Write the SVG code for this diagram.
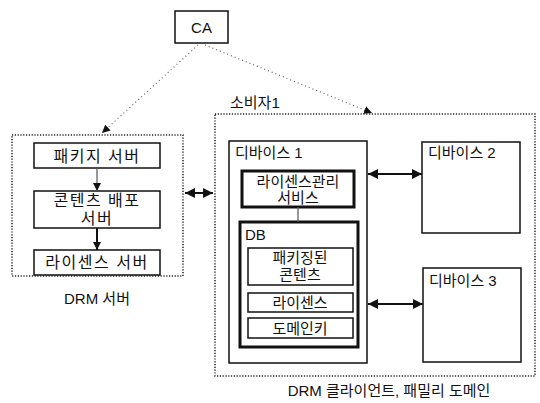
<svg xmlns="http://www.w3.org/2000/svg" width="540" height="403" viewBox="0 0 540 403">
  <style>
    text { font-family: "Liberation Sans", "Noto Sans CJK KR", sans-serif; font-size: 15px; fill: #111; }
    .mid { text-anchor: middle; }
    .wide { font-size: 16px; letter-spacing: 1.5px; }
    .box { fill: #fff; stroke: #111; stroke-width: 1.5; }
    .thick { fill: #fff; stroke: #111; stroke-width: 3; }
    .group { fill: none; stroke: #222; stroke-width: 1.5; stroke-dasharray: 1.2 1.6; }
    .dotline { fill: none; stroke: #666; stroke-width: 1.2; stroke-dasharray: 1 3; }
    .link { fill: none; stroke: #111; stroke-width: 2; }
    .thin { fill: none; stroke: #555; stroke-width: 1.2; }
  </style>
  <defs>
    <marker id="head" viewBox="0 0 10 10" refX="10" refY="5" markerWidth="8" markerHeight="8" markerUnits="userSpaceOnUse" orient="auto-start-reverse">
      <path d="M0,0 L10,5 L0,10 z" fill="#111"/>
    </marker>
    <marker id="headBig" viewBox="0 0 10 10" refX="10" refY="5" markerWidth="10" markerHeight="10" markerUnits="userSpaceOnUse" orient="auto-start-reverse">
      <path d="M0,0 L10,5 L0,10 z" fill="#111"/>
    </marker>
  </defs>

  <!-- certificate authority -->
  <g id="ca">
    <rect class="box" x="175" y="11" width="53" height="32"/>
    <text class="mid" x="201.5" y="33" font-size="17">CA</text>
  </g>

  <!-- DRM server group -->
  <g id="drm-server">
    <rect class="group" x="12" y="135" width="171" height="141"/>
    <text class="mid" x="97" y="304" font-size="16">DRM 서버</text>
  </g>
  <g id="package-server">
    <rect class="box" x="34" y="143" width="126" height="25"/>
    <text class="mid wide" x="97" y="162">패키지 서버</text>
  </g>
  <g id="content-server">
    <rect class="box" x="34" y="191" width="126" height="37"/>
    <text class="mid wide" x="97" y="206">콘텐츠 배포</text>
    <text class="mid wide" x="97" y="224">서버</text>
  </g>
  <g id="license-server">
    <rect class="box" x="34" y="250" width="126" height="25"/>
    <text class="mid wide" x="97" y="268">라이센스 서버</text>
  </g>

  <!-- consumer / family domain group -->
  <g id="consumer">
    <rect class="group" x="215" y="114" width="320" height="262"/>
    <text x="230" y="108" font-size="16">소비자1</text>
    <text class="mid" x="389" y="396" font-size="16">DRM 클라이언트, 패밀리 도메인</text>
  </g>
  <g id="device1">
    <rect class="box" x="229" y="141" width="138" height="222"/>
    <text x="235" y="158" font-size="16">디바이스 1</text>
  </g>
  <g id="license-manager">
    <rect class="thick" x="242" y="171" width="112" height="36"/>
    <text class="mid" x="298" y="187">라이센스관리</text>
    <text class="mid" x="298" y="203">서비스</text>
  </g>
  <g id="db">
    <rect class="thick" x="240" y="222" width="118" height="125"/>
    <text x="245" y="240" font-size="16">DB</text>
  </g>
  <g id="packaged-content">
    <rect class="box" x="248" y="248" width="105" height="37"/>
    <text class="mid" x="300" y="263">패키징된</text>
    <text class="mid" x="300" y="280">콘텐츠</text>
  </g>
  <g id="license">
    <rect class="box" x="248" y="293" width="105" height="19"/>
    <text class="mid" x="300" y="308">라이센스</text>
  </g>
  <g id="domain-key">
    <rect class="box" x="248" y="318" width="105" height="20"/>
    <text class="mid" x="300" y="334">도메인키</text>
  </g>
  <g id="device2">
    <rect class="box" x="422" y="142" width="98" height="91"/>
    <text x="428" y="158" font-size="16">디바이스 2</text>
  </g>
  <g id="device3">
    <rect class="box" x="423" y="268" width="98" height="94"/>
    <text x="429" y="286" font-size="16">디바이스 3</text>
  </g>

  <!-- connectors -->
  <g id="connectors">
    <line class="dotline" x1="198" y1="45" x2="102" y2="133" marker-end="url(#head)"/>
    <line class="dotline" x1="205" y1="45" x2="372" y2="113" marker-end="url(#head)"/>
    <line class="thin" x1="97" y1="168" x2="97" y2="191" marker-end="url(#head)"/>
    <line class="link" x1="97" y1="228" x2="97" y2="250" stroke-width="1.5" marker-end="url(#head)"/>
    <line class="link" x1="185" y1="193" x2="213" y2="193" marker-start="url(#headBig)" marker-end="url(#headBig)"/>
    <line class="thin" x1="298" y1="207" x2="298" y2="222"/>
    <line class="link" x1="368" y1="174" x2="422" y2="174" marker-start="url(#headBig)" marker-end="url(#headBig)"/>
    <line class="link" x1="368" y1="304" x2="423" y2="304" marker-start="url(#headBig)" marker-end="url(#headBig)"/>
  </g>
</svg>
